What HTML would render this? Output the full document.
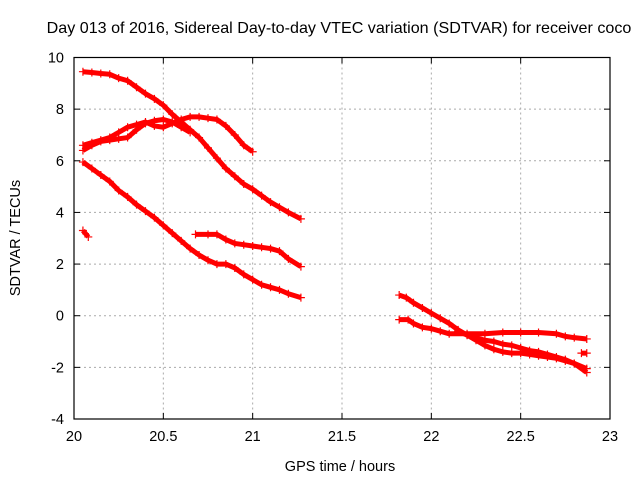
<!DOCTYPE html>
<html><head><meta charset="utf-8"><style>
body{margin:0;background:#fff}
svg{display:block;font-family:"Liberation Sans",sans-serif}
</style></head><body>
<svg id="chart" width="640" height="480">
<text x="339" y="33" font-size="16.1" text-anchor="middle">Day 013 of 2016, Sidereal Day-to-day VTEC variation (SDTVAR) for receiver coco</text>
<text x="340" y="471" font-size="14.5" text-anchor="middle">GPS time / hours</text>
<text transform="translate(20,238) rotate(-90)" font-size="14.5" text-anchor="middle">SDTVAR / TECUs</text>
<g id="grid"></g><g id="ticks"></g><g id="marks"></g>
<rect x="74" y="57.5" width="536" height="361.5" fill="none" stroke="#000" stroke-width="1.2"/>
</svg>
<script>
const xTicks=[20,20.5,21,21.5,22,22.5,23];
const xTickLabels=["20","20.5","21","21.5","22","22.5","23"];
const yTicks=[-4,-2,0,2,4,6,8,10];
const yTickLabels=["-4","-2","0","2","4","6","8","10"];
const s1x=[20.05,20.1,20.15,20.2,20.25,20.3,20.35,20.4,20.45,20.5,20.55,20.6,20.65,20.7,20.75,20.8,20.85,20.9,20.95,21.0,21.05,21.1,21.15,21.2,21.27];
const s1y=[9.45,9.42,9.38,9.35,9.2,9.1,8.85,8.6,8.4,8.15,7.8,7.5,7.2,6.9,6.5,6.1,5.7,5.4,5.1,4.9,4.65,4.4,4.2,4.0,3.75];
const s2x=[20.05,20.1,20.15,20.2,20.25,20.3,20.35,20.4,20.45,20.5,20.55,20.6,20.65,20.7,20.75,20.8,20.85,20.9,20.95,21.0];
const s2y=[6.6,6.7,6.8,6.9,7.1,7.3,7.4,7.5,7.35,7.3,7.45,7.6,7.7,7.7,7.65,7.6,7.35,7.0,6.6,6.35];
const s3x=[20.05,20.1,20.15,20.2,20.25,20.3,20.35,20.4,20.45,20.5,20.55,20.6,20.65];
const s3y=[6.4,6.6,6.75,6.8,6.85,6.9,7.2,7.45,7.55,7.6,7.5,7.3,7.1];
const s4x=[20.05,20.1,20.15,20.2,20.25,20.3,20.35,20.4,20.45,20.5,20.55,20.6,20.65,20.7,20.75,20.8,20.85,20.9,20.95,21.0,21.05,21.1,21.15,21.2,21.27];
const s4y=[5.95,5.7,5.45,5.2,4.85,4.6,4.3,4.05,3.8,3.5,3.2,2.9,2.6,2.35,2.15,2.0,2.0,1.85,1.6,1.4,1.2,1.1,1.0,0.85,0.7];
const s5x=[20.05,20.08];
const s5y=[3.3,3.05];
const s6x=[20.68,20.75,20.8,20.85,20.9,20.95,21.0,21.05,21.1,21.15,21.2,21.27];
const s6y=[3.15,3.15,3.15,2.95,2.8,2.75,2.7,2.65,2.6,2.5,2.2,1.9];
const s7x=[21.82,21.86,21.9,21.95,22.0,22.05,22.1,22.15,22.2,22.25,22.3,22.35,22.4,22.45,22.5,22.55,22.6,22.65,22.7,22.75,22.8,22.87];
const s7y=[0.8,0.7,0.5,0.3,0.1,-0.1,-0.3,-0.55,-0.75,-0.95,-1.15,-1.3,-1.4,-1.45,-1.45,-1.5,-1.55,-1.6,-1.65,-1.75,-1.85,-2.05];
const s8x=[21.82,21.87,21.9,21.95,22.0,22.05,22.1,22.2,22.3,22.4,22.5,22.6,22.7,22.75,22.8,22.87];
const s8y=[-0.15,-0.15,-0.3,-0.45,-0.5,-0.6,-0.7,-0.7,-0.7,-0.65,-0.65,-0.65,-0.7,-0.8,-0.85,-0.9];
const s9x=[22.15,22.2,22.25,22.3,22.35,22.4,22.45,22.5,22.55,22.6,22.65,22.7,22.75,22.8,22.87];
const s9y=[-0.6,-0.75,-0.85,-0.95,-1.0,-1.1,-1.15,-1.25,-1.35,-1.4,-1.5,-1.6,-1.7,-1.85,-2.2];
const s10x=[22.84,22.87];
const s10y=[-1.45,-1.45];
const series=[[s1x,s1y],[s2x,s2y],[s3x,s3y],[s4x,s4y],[s5x,s5y],[s6x,s6y],[s7x,s7y],[s8x,s8y],[s9x,s9y],[s10x,s10y]];

const X0=74,X1=610,Y0=419,Y1=57.5;
const sx=v=>X0+(v-20)/3*(X1-X0);
const sy=v=>Y0-(v+4)/14*(Y0-Y1);
const NS="http://www.w3.org/2000/svg";
const mk=(t,a,p)=>{const e=document.createElementNS(NS,t);for(const k in a)e.setAttribute(k,a[k]);p.appendChild(e);return e;};
const grid=document.getElementById('grid'),ticks=document.getElementById('ticks'),marks=document.getElementById('marks');
xTicks.forEach((v,i)=>{
 const x=sx(v);
 if(i>0&&i<xTicks.length-1){const g=mk('line',{x1:x,x2:x,y1:Y1,y2:Y0,stroke:'#aaa','stroke-dasharray':'2,3'},grid);
 
 }
 mk('line',{x1:x,x2:x,y1:Y0,y2:Y0-6,stroke:'#000'},ticks);
 mk('line',{x1:x,x2:x,y1:Y1,y2:Y1+6,stroke:'#000'},ticks);
 const t=mk('text',{x:x,y:Y0+22,'font-size':14.5,'text-anchor':'middle'},ticks);t.textContent=xTickLabels[i];
 
 
});
yTicks.forEach((v,i)=>{
 const y=sy(v);
 if(i>0&&i<yTicks.length-1){const g=mk('line',{x1:X0,x2:X1,y1:y,y2:y,stroke:'#aaa','stroke-dasharray':'2,3'},grid);
 
 }
 mk('line',{x1:X0,x2:X0+6,y1:y,y2:y,stroke:'#000'},ticks);
 mk('line',{x1:X1,x2:X1-6,y1:y,y2:y,stroke:'#000'},ticks);
 const t=mk('text',{x:X0-10,y:y+5,'font-size':14.5,'text-anchor':'end'},ticks);t.textContent=yTickLabels[i];
 
 
});
series.forEach(([xs,ys],si)=>{
 const pts=xs.map((v,i)=>sx(v)+','+sy(ys[i])).join(' ');
 const pl=mk('polyline',{points:pts,fill:'none',stroke:'#f00','stroke-width':5,'stroke-linejoin':'round'},marks);
 
 
 xs.forEach((v,i)=>{
  const x=sx(v),y=sy(ys[i]);
  const p=mk('path',{d:`M${x-4},${y}h8M${x},${y-4}v8`,stroke:'#f00','stroke-width':1.2},marks);
  
  
 });
});
</script>
</body></html>
